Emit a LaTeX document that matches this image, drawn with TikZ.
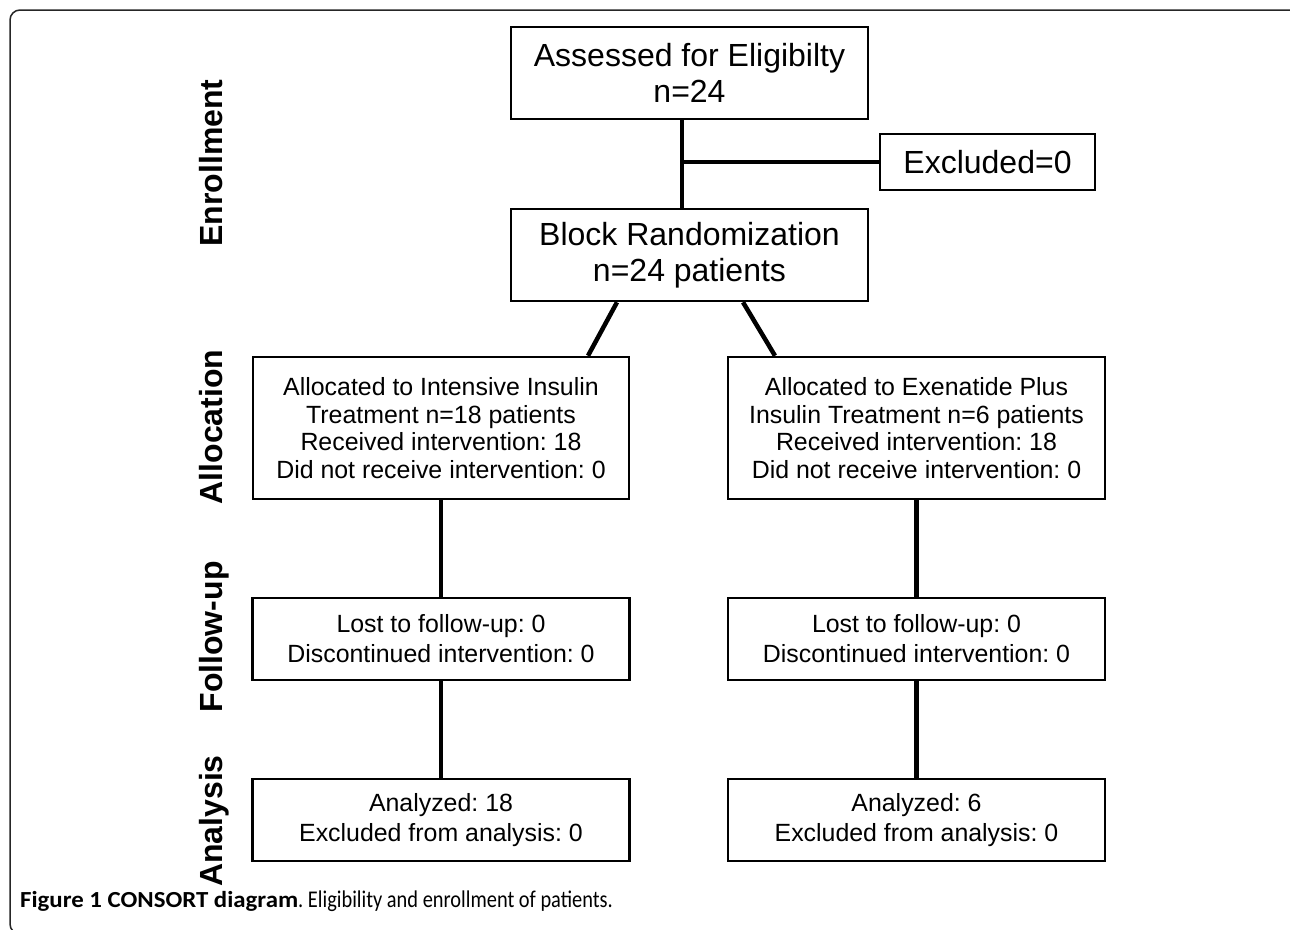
\documentclass[tikz,border=0pt]{standalone}
\usepackage{fontspec}
\setmainfont{Liberation Sans}
\newfontfamily\capbold[FakeStretch=1.08]{Carlito Bold}
\newfontfamily\capreg[FakeStretch=0.85]{Carlito}
\begin{document}
\frenchspacing
\begin{tikzpicture}[x=1pt,y=-1pt,
  boxbig/.style={draw, line width=2.5pt, rectangle, inner sep=0pt, align=center,
    font=\fontsize{32}{36}\selectfont},
  boxsmall/.style={draw, line width=2.5pt, rectangle, inner sep=0pt, align=center,
    font=\fontsize{24.9}{27.6}\selectfont},
  boxlow/.style={draw, line width=2.5pt, rectangle, inner sep=0pt, align=center,
    font=\fontsize{24.9}{30}\selectfont},
  phase/.style={rotate=90, anchor=base, inner sep=0pt, font=\fontsize{32}{36}\selectfont\bfseries},
  conn/.style={line width=4.5pt}]
\useasboundingbox (0,0) rectangle (1290,929);
\fill[white] (0,0) rectangle (1290,929);
\draw[line width=1.5pt, rounded corners=10pt, black!85] (10,10) rectangle (1300,934);

\node[boxbig, minimum width=357pt, minimum height=92pt] (assess) at (689.5,73) {Assessed for Eligibilty\\n=24};
\node[boxbig, minimum width=215pt, minimum height=56pt] (excl) at (987.5,162) {Excluded=0};
\node[boxbig, minimum width=357pt, minimum height=92pt] (block) at (689.5,255) {Block Randomization\\n=24 patients};

\node[boxsmall, minimum width=376pt, minimum height=142pt] (allocL) at (441,428) {Allocated to Intensive Insulin\\Treatment n=18 patients\\Received intervention: 18\\Did not receive intervention: 0};
\node[boxsmall, minimum width=377pt, minimum height=142pt] (allocR) at (916.5,428) {Allocated to Exenatide Plus\\Insulin Treatment n=6 patients\\Received intervention: 18\\Did not receive intervention: 0};

\node[boxlow, minimum width=377pt, minimum height=82pt] (fuL) at (441,639) {Lost to follow-up: 0\\Discontinued intervention: 0};
\node[boxlow, minimum width=377pt, minimum height=82pt] (fuR) at (916.5,639) {Lost to follow-up: 0\\Discontinued intervention: 0};

\node[boxlow, minimum width=377pt, minimum height=82pt] (anL) at (441,820) {Analyzed: 18\\Excluded from analysis: 0};
\node[boxlow, minimum width=377pt, minimum height=82pt] (anR) at (916.5,820) {Analyzed: 6\\Excluded from analysis: 0};

\node[phase] (pE) at (222,163) {Enrollment};
\node[phase] (pA) at (222,427) {Allocation};
\node[phase] (pF) at (222,637) {Follow-up};
\node[phase] (pN) at (222,821) {Analysis};

\coordinate (j) at (682,162);
\draw[conn] ([xshift=-7.5pt]assess.south) -- ([xshift=-7.5pt]block.north);
\draw[conn] (j) -- (excl.west);
\draw[conn] ([xshift=-72.5pt]block.south) -- ([xshift=147pt]allocL.north);
\draw[conn] ([xshift=53.5pt]block.south) -- ([xshift=-141.5pt]allocR.north);
\draw[conn] (allocL.south) -- (fuL.north);
\draw[conn] (fuL.south) -- (anL.north);
\draw[conn] (allocR.south) -- (fuR.north);
\draw[conn] (fuR.south) -- (anR.north);

\node[anchor=base west, inner sep=0pt, font=\fontsize{23}{26}\selectfont] (cap) at (20,907)
  {{\capbold Figure 1 CONSORT diagram}{\capreg\fontsize{24}{26}\selectfont. Eligibility and enrollment of patients.}};
\end{tikzpicture}
\end{document}
